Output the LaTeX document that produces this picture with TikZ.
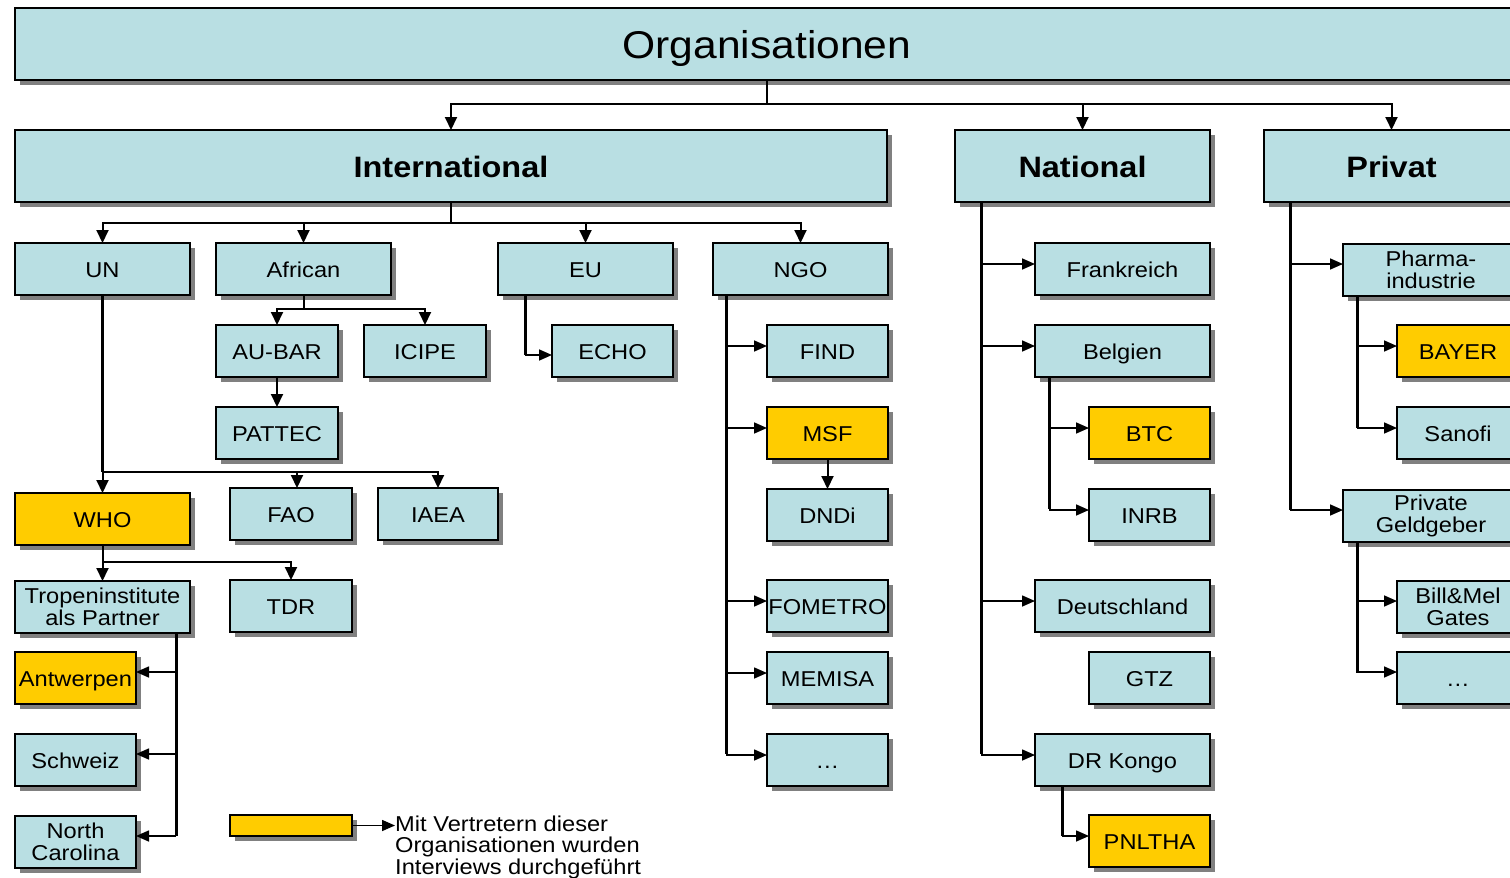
\documentclass[tikz,border=0pt]{standalone}
\usepackage{fontspec}
\setmainfont{Liberation Sans}[FakeStretch=1.1]
\usetikzlibrary{arrows.meta,shadows,calc}

\definecolor{boxblue}{RGB}{185,223,227}
\definecolor{boxgold}{RGB}{255,204,0}
\definecolor{shadegray}{RGB}{128,128,128}

\tikzset{
  base/.style={draw=black, line width=2pt, fill=boxblue, inner sep=0pt, outer sep=0pt,
    align=center, font=\fontsize{21.5}{22}\selectfont,
    drop shadow={shadow xshift=5pt, shadow yshift=-5pt, fill=shadegray, opacity=1}},
  one/.style={text height=19pt, text depth=2pt},
  wide/.style={base, minimum width=175pt, minimum height=52pt},
  narrow/.style={base, minimum width=122pt, minimum height=52pt},
  head/.style={base, minimum height=72pt, font=\fontsize{29.5}{30}\selectfont\bfseries,
    text height=26pt, text depth=3pt},
  titlebox/.style={base, minimum height=72pt, font=\fontsize{38.7}{40}\selectfont,
    text height=32pt, text depth=4pt},
  hit/.style={fill=boxgold},
  trunk/.style={line width=3pt},
  bus/.style={line width=2pt},
  darr/.style={line width=2pt, -{Triangle[length=13pt,width=12pt]}},
  arr/.style={line width=1.6pt, -{Triangle[length=13pt,width=11pt]}},
}

\begin{document}
\begin{tikzpicture}[x=1pt,y=-1pt]
\useasboundingbox (0,0) rectangle (1510,878);
\fill[white] (0,0) rectangle (1510,878);
\clip (0,0) rectangle (1510,878);

% ---------- top levels ----------
\node[titlebox, minimum width=1504pt] (org) at (767,44) {Organisationen};
\node[head, minimum width=872pt] (intl) at (451,166) {International};
\node[head, minimum width=255pt] (nat) at (1082.5,166) {National};
\node[head, minimum width=255pt] (priv) at (1391.5,166) {Privat};

% ---------- international ----------
\node[wide,one] (un) at (102.5,269) {UN};
\node[wide,one] (african) at (303.5,269) {African};
\node[wide,one] (eu) at (585.5,269) {EU};
\node[wide,one] (ngo) at (800.5,269) {NGO};

\node[narrow,one] (aubar) at (277,351) {AU-BAR};
\node[narrow,one] (icipe) at (425,351) {ICIPE};
\node[narrow,one,minimum width=121pt] (echo) at (612.5,351) {ECHO};
\node[narrow,one] (pattec) at (277,433) {PATTEC};

\node[wide,one,hit] (who) at (102.5,519) {WHO};
\node[narrow,one] (fao) at (291,514) {FAO};
\node[narrow,one,minimum width=120pt] (iaea) at (438,514) {IAEA};
\node[wide] (tropen) at (102.5,607) {Tropeninstitute\\als Partner};
\node[narrow,one] (tdr) at (291,606) {TDR};
\node[narrow,one,hit,minimum width=121pt] (antw) at (75.5,678) {Antwerpen};
\node[narrow,one,minimum width=121pt] (schweiz) at (75.5,760) {Schweiz};
\node[narrow,minimum width=121pt] (nc) at (75.5,842) {North\\Carolina};

% NGOs
\node[narrow,one,minimum width=121pt] (find) at (827.5,351) {FIND};
\node[narrow,one,hit,minimum width=121pt] (msf) at (827.5,433) {MSF};
\node[narrow,one,minimum width=121pt] (dndi) at (827.5,515) {DNDi};
\node[narrow,one,minimum width=121pt] (fometro) at (827.5,606) {FOMETRO};
\node[narrow,one,minimum width=121pt] (memisa) at (827.5,678) {MEMISA};
\node[narrow,one,minimum width=121pt] (ndots) at (827.5,760) {…};

% ---------- national ----------
\node[wide,one] (frank) at (1122.5,269) {Frankreich};
\node[wide,one] (belg) at (1122.5,351) {Belgien};
\node[narrow,one,hit,minimum width=121pt] (btc) at (1149.5,433) {BTC};
\node[narrow,one,minimum width=121pt] (inrb) at (1149.5,515) {INRB};
\node[wide,one] (deut) at (1122.5,606) {Deutschland};
\node[narrow,one,minimum width=121pt] (gtz) at (1149.5,678) {GTZ};
\node[wide,one] (kongo) at (1122.5,760) {DR Kongo};
\node[narrow,one,hit,minimum width=121pt] (pnltha) at (1149.5,841) {PNLTHA};

% ---------- private ----------
\node[wide,minimum width=176pt] (pharma) at (1431,270) {Pharma-\\industrie};
\node[narrow,one,hit] (bayer) at (1458,351) {BAYER};
\node[narrow,one] (sanofi) at (1458,433) {Sanofi};
\node[wide,minimum width=176pt] (privg) at (1431,516) {Private\\Geldgeber};
\node[narrow] (bill) at (1458,607) {Bill\&Mel\\Gates};
\node[narrow,one] (pdots) at (1458,678) {…};

% ---------- legend ----------
\node[base,hit,minimum width=122pt,minimum height=21pt] (legend) at (291,825.5) {};
\node[anchor=west, align=left, inner sep=0pt, font=\fontsize{21.5}{21.5}\selectfont]
  (legtext) at (395,847) {Mit Vertretern dieser\\Organisationen wurden\\Interviews durchgeführt};
\draw[arr] (legend.east) -- (legend.east -| legtext.west);

% ---------- connectors: top ----------
\coordinate (topbus) at (org.south |- 0,104);
\draw[bus] (org.south) -- (topbus);
\draw[darr] (topbus) -| (intl.north);
\draw[darr] (topbus) -| (nat.north);
\draw[darr] (topbus) -| (priv.north);

% international
\coordinate (intlbus) at (intl.south |- 0,223);
\draw[bus] (intl.south) -- (intlbus);
\draw[darr] (intlbus) -| (un.north);
\draw[darr] (intlbus) -| (african.north);
\draw[darr] (intlbus) -| (eu.north);
\draw[darr] (intlbus) -| (ngo.north);

% African
\coordinate (afbus) at (african.south |- 0,309);
\draw[bus] (african.south) -- (afbus);
\draw[darr] (afbus) -| (aubar.north);
\draw[darr] (afbus) -| (icipe.north);
\draw[darr] (aubar.south) -- (pattec.north);

% EU
\coordinate (euT) at ($(eu.south west)+(27,0)$);
\draw[trunk] (euT) -- ($(euT |- echo.west)+(0,4)$) coordinate (euC);
\draw[arr] (euC) -- (euC -| echo.west);

% UN
\coordinate (unbus) at (un.south |- 0,472);
\draw[trunk] (un.south) -- (unbus);
\draw[darr] (unbus) -- (who.north);
\draw[darr] (unbus) -| ($(fao.north)+(6,0)$);
\draw[darr] (unbus) -| (iaea.north);

% WHO
\coordinate (whobus) at (who.south |- 0,562);
\draw[darr] (who.south) -- (tropen.north);
\draw[darr] (whobus) -| (tdr.north);

% Tropeninstitute
\coordinate (trT) at ($(tropen.south east)+(-14,0)$);
\draw[trunk] (trT) -- ($(trT |- nc.east)+(0,-6)$);
\draw[arr] ($(trT |- antw.east)+(0,-6)$) -- ($(antw.east)+(0,-6)$);
\draw[arr] ($(trT |- schweiz.east)+(0,-6)$) -- ($(schweiz.east)+(0,-6)$);
\draw[arr] ($(trT |- nc.east)+(0,-6)$) -- ($(nc.east)+(0,-6)$);

% NGO
\coordinate (ngoT) at ($(ngo.south west)+(13,0)$);
\draw[trunk] (ngoT) -- ($(ngoT |- ndots.west)+(0,-6)$);
\foreach \n in {find,msf,fometro,memisa,ndots}
  \draw[arr] ($(ngoT |- \n.west)+(0,-5)$) -- ($(\n.west)+(0,-5)$);
\draw[darr] (msf.south) -- (dndi.north);

% National
\coordinate (natT) at ($(nat.south west)+(26,0)$);
\draw[trunk] (natT) -- ($(natT |- kongo.west)+(0,-6)$);
\foreach \n in {frank,belg,deut,kongo}
  \draw[arr] ($(natT |- \n.west)+(0,-5)$) -- ($(\n.west)+(0,-5)$);

\coordinate (belT) at ($(belg.south west)+(14,0)$);
\draw[trunk] (belT) -- ($(belT |- inrb.west)+(0,-6)$);
\foreach \n in {btc,inrb}
  \draw[arr] ($(belT |- \n.west)+(0,-5)$) -- ($(\n.west)+(0,-5)$);

\coordinate (kgT) at ($(kongo.south west)+(27,0)$);
\draw[trunk] (kgT) -- ($(kgT |- pnltha.west)+(0,-5)$);
\draw[arr] ($(kgT |- pnltha.west)+(0,-5)$) -- ($(pnltha.west)+(0,-5)$);

% Privat
\coordinate (prT) at ($(priv.south west)+(26,0)$);
\draw[trunk] (prT) -- ($(prT |- privg.west)+(0,-6)$);
\foreach \n in {pharma,privg}
  \draw[arr] ($(prT |- \n.west)+(0,-6)$) -- ($(\n.west)+(0,-6)$);

\coordinate (phT) at ($(pharma.south west)+(14,0)$);
\draw[trunk] (phT) -- ($(phT |- sanofi.west)+(0,-5)$);
\foreach \n in {bayer,sanofi}
  \draw[arr] ($(phT |- \n.west)+(0,-5)$) -- ($(\n.west)+(0,-5)$);

\coordinate (pgT) at ($(privg.south west)+(14,0)$);
\draw[trunk] (pgT) -- ($(pgT |- pdots.west)+(0,-5)$);
\foreach \n in {bill,pdots}
  \draw[arr] ($(pgT |- \n.west)+(0,-6)$) -- ($(\n.west)+(0,-6)$);
\end{tikzpicture}
\end{document}
